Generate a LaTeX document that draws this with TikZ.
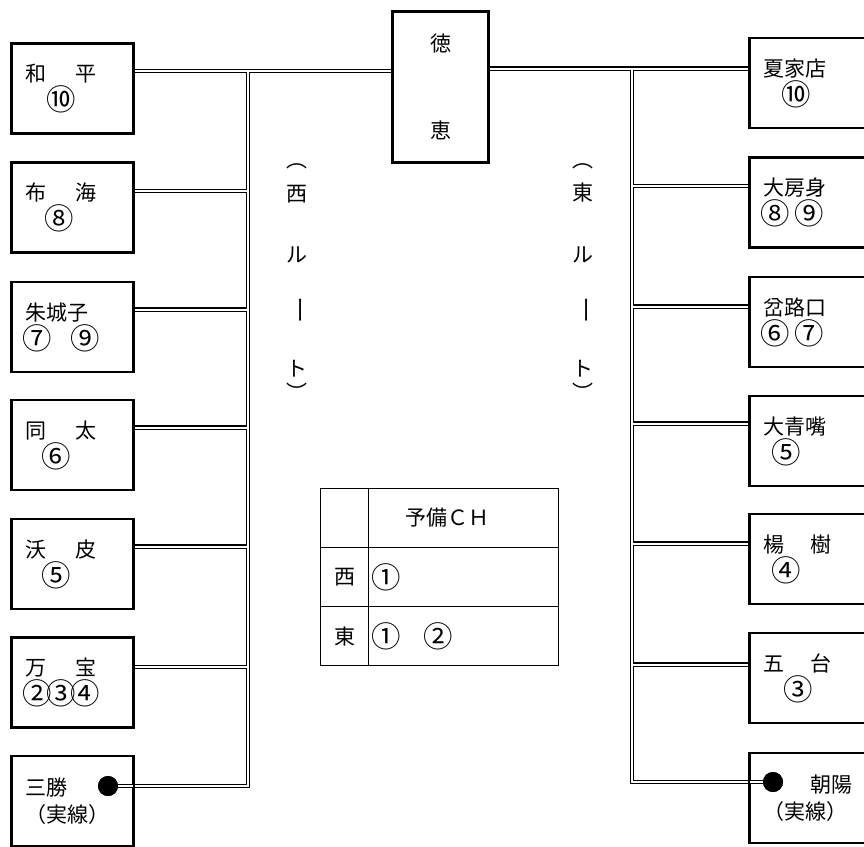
\documentclass[tikz,border=0pt]{standalone}
\usepackage{fontspec}
\usepackage{graphicx}
\setmainfont{Noto Sans CJK JP}
\usetikzlibrary{calc}
\newcommand\cn[1]{\makebox[24pt]{\raisebox{-2pt}{\scalebox{1.4}{#1}}}}
\newcommand\drawnet[1]{%
  \draw[#1] (wahei-p) -- (toku.west |- wahei-p);
  \draw[#1] (LT) -- (LB) -- (dotL.east);
  \foreach \b in {fukai,shujo,douta,yokuhi,manpou}{\draw[#1] (\b-p) -- (\b-p -| LT);}
  \draw[#1] (toku.east |- kakaten-p) -- (kakaten-p);
  \draw[#1] (RT) -- (RB) -- (dotR.west);
  \foreach \b in {daibou,taroko,daisei,youju,godai}{\draw[#1] (\b-p) -- (\b-p -| RT);}
}
\begin{document}
\begin{tikzpicture}[x=1pt,y=-1pt,
  jp/.style={font=\fontsize{21}{27}\selectfont},
  box/.style={jp, draw, line width=1.7pt, minimum height=89pt,
    text width=95pt, align=left, inner xsep=13pt, inner ysep=0pt},
  netouter/.style={line width=4.4pt, black, line join=miter},
  netinner/.style={line width=2pt, white, line join=miter},
  bigdot/.style={circle, fill=black, minimum size=20pt, inner sep=0pt},
  cell/.style={jp, draw, line width=1.1pt, minimum height=59pt, anchor=north west, inner ysep=0pt},
  vt/.style={jp, inner sep=0pt}]
\path[use as bounding box] (0,0) rectangle (864,846);
\clip (0,0) rectangle (864,846);
\fill[white] (0,0) rectangle (864,846);

% centre box
\node[jp, draw, line width=1.7pt, minimum width=95pt, minimum height=150pt, align=center, inner sep=0pt]
  (toku) at (440.5,87) {徳\\[60pt]恵};

% left boxes
\node[box] (wahei)  at (72.5,88.5)  {和\hspace{1.4em}平\\\hspace*{24pt}\cn{⑩}};
\node[box] (fukai)  at (72.5,207.5) {布\hspace{1.4em}海\\\hspace*{22pt}\cn{⑧}};
\node[box] (shujo)  at (72.5,327)   {朱城子\\\cn{⑦}\hspace{24pt}\cn{⑨}};
\node[box] (douta)  at (72.5,445)   {同\hspace{1.4em}太\\\hspace*{19pt}\cn{⑥}};
\node[box] (yokuhi) at (72.5,564)   {沃\hspace{1.4em}皮\\\hspace*{19pt}\cn{⑤}};
\node[box] (manpou) at (72.5,682.5) {万\hspace{1.4em}宝\\\cn{②}\cn{③}\cn{④}};
\node[box] (sansho) at (72.5,801)   {三勝\\（実線）};
\node[bigdot] (dotL) at (108,786) {};

% right boxes
\node[box] (kakaten) at (810.5,83)    {夏家店\\\hspace*{21pt}\cn{⑩}};
\node[box] (daibou)  at (810.5,202.5) {大房身\\\cn{⑧}\hspace{10pt}\cn{⑨}};
\node[box] (taroko)  at (810.5,322)   {岔路口\\\cn{⑥}\hspace{10pt}\cn{⑦}};
\node[box] (daisei)  at (810.5,441)   {大青嘴\\\hspace*{11pt}\cn{⑤}};
\node[box] (youju)   at (810.5,559)   {楊\hspace{1.25em}樹\\\hspace*{11pt}\cn{④}};
\node[box] (godai)   at (810.5,678)   {五\hspace{1.25em}台\\\hspace*{23pt}\cn{③}};
\node[box] (chouyou) at (810.5,798)   {\hspace*{2.25em}朝陽\\（実線）};
\node[bigdot] (dotR) at (773,782) {};

% connection points
\coordinate (wahei-p)  at ($(wahei.north east)+(0,28)$);
\coordinate (fukai-p)  at ($(fukai.north east)+(0,29)$);
\coordinate (shujo-p)  at ($(shujo.north east)+(0,28)$);
\coordinate (douta-p)  at ($(douta.north east)+(0,28)$);
\coordinate (yokuhi-p) at ($(yokuhi.north east)+(0,28)$);
\coordinate (manpou-p) at ($(manpou.north east)+(0,30)$);
\coordinate (LT) at (248,72);
\coordinate (LB) at (dotL.east -| LT);
\coordinate (kakaten-p) at ($(kakaten.north west)+(0,31)$);
\coordinate (daibou-p)  at ($(daibou.north west)+(0,29)$);
\coordinate (taroko-p)  at ($(taroko.north west)+(0,30)$);
\coordinate (daisei-p)  at ($(daisei.north west)+(0,28)$);
\coordinate (youju-p)   at ($(youju.north west)+(0,30)$);
\coordinate (godai-p)   at ($(godai.north west)+(0,32)$);
\coordinate (RT) at (632,69);
\coordinate (RB) at (dotR.west -| RT);

\drawnet{netouter}
\drawnet{netinner}
% redraw box borders and dots on top of the connectors
\foreach \n in {toku,wahei,fukai,shujo,douta,yokuhi,manpou,sansho,kakaten,daibou,taroko,daisei,youju,godai,chouyou}
  {\draw[line width=1.7pt] (\n.north west) rectangle (\n.south east);}
\node[bigdot] at (dotL) {};
\node[bigdot] at (dotR) {};

% vertical labels
\node[vt] (w0) at (297,166) {︵};
\node[vt] (w1) at (297,194) {西};
\node[vt] (w2) at (297,255) {ル};
\node[vt] (w3) at (297,310) {\rotatebox[origin=c]{-90}{\scalebox{1.3}[1]{ー}}};
\node[vt] (w4) at (297,369) {ト};
\node[vt] (w5) at (297,392) {︶};
\node[vt] (e0) at (583,166) {︵};
\node[vt] (e1) at (583,193) {東};
\node[vt] (e2) at (583,255) {ル};
\node[vt] (e3) at (583,310) {\rotatebox[origin=c]{-90}{\scalebox{1.3}[1]{ー}}};
\node[vt] (e4) at (583,369) {ト};
\node[vt] (e5) at (583,392) {︶};

% table
\node[cell, minimum width=48pt, inner xsep=0pt] (t00) at (320,488) {};
\node[cell, text width=174pt, inner xsep=8pt, align=left] (t01) at (368,488) {\hspace*{1.4em}予備ＣＨ};
\node[cell, minimum width=48pt, inner xsep=0pt] (t10) at (320,547) {西};
\node[cell, text width=178pt, inner xsep=6pt, align=left] (t11) at (368,547) {\cn{①}};
\node[cell, minimum width=48pt, inner xsep=0pt] (t20) at (320,606) {東};
\node[cell, text width=178pt, inner xsep=6pt, align=left] (t21) at (368,606) {\cn{①}\hspace{28pt}\cn{②}};
\end{tikzpicture}
\end{document}
